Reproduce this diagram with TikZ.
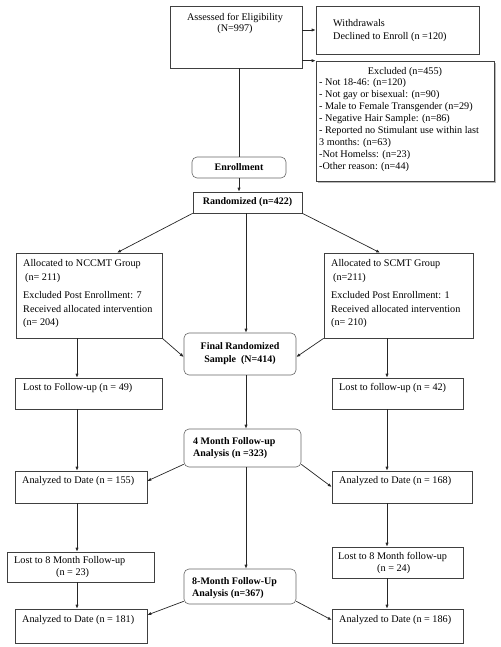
\documentclass[tikz,border=0pt]{standalone}
\usepackage{fontspec}
\setmainfont{Liberation Serif}
\usetikzlibrary{arrows.meta,shadows}
\begin{document}
\begin{tikzpicture}[x=1pt,y=-1pt,
  box/.style={draw=black!75, line width=0.6pt, fill=white, inner sep=0pt},
  rbox/.style={box, draw=black!60, rounded corners=5pt},
  txt/.style={inner sep=0pt, font=\fontsize{10.2}{12}\selectfont, align=left, text=black},
  btxt/.style={txt, font=\fontsize{10}{12}\selectfont\bfseries},
  arr/.style={-{Latex[length=4pt,width=3.2pt]}, line width=0.7pt, draw=black!85},
  ln/.style={line width=0.7pt, draw=black!85}]
\useasboundingbox (0,0) rectangle (500,647);

% boxes
\node[box, minimum width=132pt, minimum height=62pt] (assess) at (236,37) {};
\node[box, minimum width=163pt, minimum height=48pt] (withdraw) at (397.5,30) {};
\node[box, minimum width=178pt, minimum height=120pt,
      drop shadow={shadow xshift=1.6pt, shadow yshift=-1.6pt, fill=black!55}] (excl) at (405,121) {};
\node[rbox, minimum width=94pt, minimum height=21pt, btxt, align=center] (enroll) at (239,167.5) {Enrollment};
\node[box, minimum width=109pt, minimum height=21pt, btxt, align=center] (random) at (247.5,202.5) {Randomized (n=422)};
\node[box, minimum width=146pt, minimum height=85pt] (nccmt) at (89,295.5) {};
\node[box, minimum width=149pt, minimum height=85pt] (scmt) at (398.5,295.5) {};
\node[rbox, minimum width=112pt, minimum height=42pt, btxt, align=center,
      font=\fontsize{10}{13}\selectfont\bfseries] (final) at (240,354) {Final Randomized\\Sample\ \ (N=414)};
\node[box, minimum width=147pt, minimum height=31pt] (lostL) at (88.5,393.5) {};
\node[box, minimum width=131pt, minimum height=31pt] (lostR) at (397.5,393.5) {};
\node[rbox, minimum width=117pt, minimum height=38pt] (four) at (242.5,448) {};
\node[box, minimum width=132pt, minimum height=32pt] (anaL1) at (81,487) {};
\node[box, minimum width=140pt, minimum height=32pt] (anaR1) at (402,487) {};
\node[box, minimum width=147pt, minimum height=30pt] (lostEL) at (80.5,567) {};
\node[box, minimum width=131pt, minimum height=31pt] (lostER) at (397.5,562.5) {};
\node[rbox, minimum width=112pt, minimum height=35pt] (eight) at (240,586.5) {};
\node[box, minimum width=132pt, minimum height=34pt] (anaL2) at (81,626) {};
\node[box, minimum width=131pt, minimum height=34pt] (anaR2) at (397.5,626) {};

% texts
\node[txt, align=center, anchor=north, font=\fontsize{10.2}{11}\selectfont] (assessT) at (235,13.5)
  {Assessed for Eligibility\\(N=997)};
\node[txt, anchor=north west, font=\fontsize{10.2}{13}\selectfont] (withdrawT) at (333,19.5)
  {Withdrawals\\Declined to Enroll (n =120)};
\node[txt, anchor=base] (exclTitle) at (405,74.5) {Excluded (n=455)};
\node[txt, anchor=north west] (exclT) at (319,78.5)
  {- Not 18-46: (n=120)\\
   - Not gay or bisexual: (n=90)\\
   - Male to Female Transgender (n=29)\\
   - Negative Hair Sample: (n=86)\\
   - Reported no Stimulant use within last\\
   3 months: (n=63)\\
   -Not Homelss: (n=23)\\
   -Other reason: (n=44)};
\node[txt, anchor=north west, font=\fontsize{10.2}{13.5}\selectfont] (nccmtT) at (23,259.5)
  {Allocated to NCCMT Group\\
   \hspace*{2pt}(n= 211)\\[5pt]
   Excluded Post Enrollment: 7\\
   Received allocated intervention\\
   (n= 204)};
\node[txt, anchor=north west, font=\fontsize{10.2}{13.5}\selectfont] (scmtT) at (331,259.5)
  {Allocated to SCMT Group\\
   \hspace*{2pt}(n=211)\\[5pt]
   Excluded Post Enrollment: 1\\
   Received allocated intervention\\
   (n= 210)};
\node[txt, anchor=base west] (lostLT) at (23,390.5) {Lost to Follow-up (n = 49)};
\node[txt, anchor=base west] (lostRT) at (339,390.5) {Lost to follow-up (n = 42)};
\node[btxt, anchor=north west] (fourT) at (193,437.5) {4 Month Follow-up\\Analysis (n =323)};
\node[txt, anchor=base west] (anaL1T) at (22,483.5) {Analyzed to Date (n = 155)};
\node[txt, anchor=base west] (anaR1T) at (339,483.5) {Analyzed to Date (n = 168)};
\node[txt, anchor=north west] (lostELT) at (14,556.5) {Lost to 8 Month Follow-up\\\hspace*{42pt}(n = 23)};
\node[txt, anchor=north west] (lostERT) at (338,552.5) {Lost to 8 Month follow-up\\\hspace*{39pt}(n = 24)};
\node[btxt, anchor=north west] (eightT) at (192,577.5) {8-Month Follow-Up\\Analysis (n=367)};
\node[txt, anchor=base west] (anaL2T) at (22,622.5) {Analyzed to Date (n = 181)};
\node[txt, anchor=base west] (anaR2T) at (339,622.5) {Analyzed to Date (n = 186)};

% connectors
\draw[ln] ([xshift=3pt]assess.south) -- (enroll.north);
\draw[arr] (assess.east |- withdraw.west) -- (withdraw.west);
\draw[arr] (assess.east |- excl.north west) -- (excl.north west);
\draw[arr] (enroll.south) -- (enroll.south |- random.north);
\draw[arr] (random.south west) -- ([xshift=28pt]nccmt.north);
\draw[arr] ([xshift=-1.5pt]random.south) -- ([xshift=-1.5pt]random.south |- final.north);
\draw[arr] (random.south east) -- ([xshift=-18.5pt]scmt.north);
\draw[arr] (nccmt.south east) -- ([yshift=-3pt]final.west);
\draw[arr] (scmt.south west) -- ([yshift=-3pt]final.east);
\draw[arr] ([xshift=-12pt]nccmt.south) -- ([xshift=-12pt]nccmt.south |- lostL.north);
\draw[arr] ([xshift=-11.5pt]scmt.south) -- ([xshift=-11.5pt]scmt.south |- lostR.north);
\draw[arr] ([xshift=6pt]final.south) -- ([xshift=6pt]final.south |- four.north);
\draw[arr] ([xshift=-11.5pt]lostL.south) -- ([xshift=-11.5pt]lostL.south |- anaL1.north);
\draw[arr] ([xshift=-10.5pt]lostR.south) -- ([xshift=-10.5pt]lostR.south |- anaR1.north);
\draw[arr] ([yshift=3pt]four.south west) -- ([yshift=6pt]anaL1.east);
\draw[arr] ([yshift=3pt]four.south east) -- (anaR1.west);
\draw[arr] ([xshift=3.5pt]four.south) -- ([xshift=3.5pt]four.south |- eight.north);
\draw[arr] ([xshift=-4pt]anaL1.south) -- ([xshift=-4pt]anaL1.south |- lostEL.north);
\draw[arr] ([xshift=-15pt]anaR1.south) -- ([xshift=-15pt]anaR1.south |- lostER.north);
\draw[arr] ([xshift=-3.5pt]lostEL.south) -- ([xshift=-3.5pt]lostEL.south |- anaL2.north);
\draw[arr] ([xshift=-10.5pt]lostER.south) -- ([xshift=-10.5pt]lostER.south |- anaR2.north);
\draw[arr] ([yshift=3pt]eight.south west) -- ([yshift=11pt]anaL2.east);
\draw[arr] ([yshift=3pt]eight.south east) -- ([yshift=6pt]anaR2.west);
\end{tikzpicture}
\end{document}
